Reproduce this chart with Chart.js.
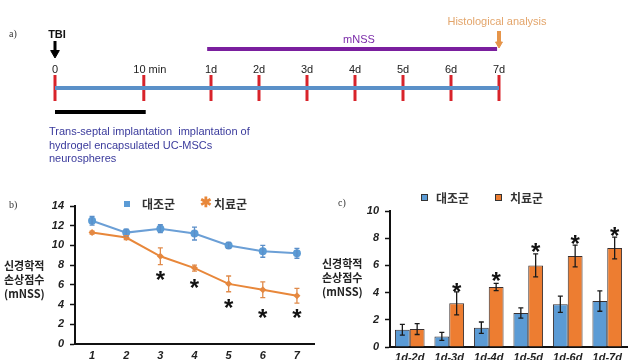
<!DOCTYPE html>
<html><head><meta charset="utf-8">
<script src="https://cdn.jsdelivr.net/npm/chart.js@4/dist/chart.umd.min.js"></script>
<style>
html,body{margin:0;padding:0;background:#fff;}
#wrap{position:relative;width:640px;height:360px;overflow:hidden;background:#fff;font-family:"Liberation Sans",Arial,sans-serif;}
canvas{position:absolute;}
.t{position:absolute;white-space:nowrap;}
.lab{font-family:"Liberation Serif",serif;font-size:10px;color:#333;}
.ytitle{font-family:"Noto Sans CJK KR","Liberation Sans",sans-serif;font-weight:bold;font-size:11px;line-height:14px;color:#222;}
.leg{font-family:"Noto Sans CJK KR",sans-serif;font-weight:bold;font-size:12px;color:#333;}
.mk{position:absolute;}
</style></head><body>
<div id="wrap">
  <canvas id="ca" width="640" height="175" style="left:0;top:0;width:640px;height:175px"></canvas>
  <canvas id="cb" width="330" height="180" style="left:0;top:180px;width:330px;height:180px"></canvas>
  <canvas id="cc" width="320" height="180" style="left:320px;top:180px;width:320px;height:180px"></canvas>

  <div class="t lab" style="left:9px;top:28px">a)</div>
  <div class="t" style="left:49px;top:125px;font-size:11px;line-height:13.5px;color:#3a3a9c">Trans-septal implantation&nbsp; implantation of<br>hydrogel encapsulated UC-MSCs<br>neurospheres</div>

  <div class="t lab" style="left:9px;top:199px">b)</div>
  <div class="t ytitle" style="left:4px;top:258px">신경학적<br>손상점수<br>(mNSS)</div>
  <div class="mk" style="left:124px;top:201px;width:6px;height:6px;background:#5b9bd5"></div>
  <div class="t leg" style="left:142px;top:195px">대조군</div>
  <div class="t" style="left:200px;top:194px;font-size:14px;font-weight:bold;color:#e8873a">✱</div>
  <div class="t leg" style="left:214px;top:195px">치료군</div>

  <div class="t lab" style="left:338px;top:197px">c)</div>
  <div class="t ytitle" style="left:322px;top:256px">신경학적<br>손상점수<br>(mNSS)</div>
  <div class="mk" style="left:421px;top:194px;width:5px;height:5px;background:#5b9bd5;border:1px solid #333"></div>
  <div class="t leg" style="left:436px;top:189px">대조군</div>
  <div class="mk" style="left:495px;top:194px;width:5px;height:5px;background:#ed7d31;border:1px solid #333"></div>
  <div class="t leg" style="left:510px;top:189px">치료군</div>
</div>
<script>
// ---------- DATA ----------
// a) timeline
const tlLabels = ['0','10 min','1d','2d','3d','4d','5d','6d','7d'];
const tlPos    = [0, 1.85, 3.25, 4.25, 5.25, 6.25, 7.25, 8.25, 9.25];

// b) mNSS per day
const daysB      = ['1','2','3','4','5','6','7'];
const ctrlB      = [12.5, 11.3, 11.7, 11.2, 10.0, 9.4, 9.2];
const ctrlErrB   = [0.45, 0.35, 0.4, 0.65, 0.3, 0.6, 0.5];
const treatB     = [11.3, 10.8, 8.9, 7.7, 6.1, 5.5, 4.9];
const treatErrB  = [0.15, 0.2, 0.85, 0.3, 0.8, 0.8, 0.75];
const starsB     = [null, null, 6.9, 6.1, 4.1, 3.1, 3.1];

// c) mNSS improvement
const rangesC    = ['1d-2d','1d-3d','1d-4d','1d-5d','1d-6d','1d-7d'];
const ctrlC      = [1.27, 0.78, 1.42, 2.5, 3.14, 3.38];
const ctrlErrC   = [0.4, 0.3, 0.42, 0.37, 0.6, 0.75];
const treatC     = [1.32, 3.21, 4.41, 6.0, 6.69, 7.28];
const treatErrC  = [0.4, 0.85, 0.27, 0.85, 0.8, 0.8];
const starsC     = [null, 4.4, 5.2, 7.3, 7.9, 8.5];

const seriesNames = ['대조군','치료군'];

// ---------- helpers ----------
const FONT = '"Liberation Sans", Arial, sans-serif';

const errPlugin = {
  id: 'errbars',
  afterDatasetsDraw(chart) {
    const ctx = chart.ctx, ys = chart.scales.y;
    chart.data.datasets.forEach((ds, i) => {
      if (!ds.errors) return;
      const meta = chart.getDatasetMeta(i);
      meta.data.forEach((el, j) => {
        const v = ds.data[j], e = ds.errors[j];
        if (v == null || e == null) return;
        const x = el.x, y1 = ys.getPixelForValue(v + e), y2 = ys.getPixelForValue(v - e);
        ctx.save();
        ctx.strokeStyle = ds.errColor; ctx.lineWidth = 1.3;
        ctx.beginPath();
        ctx.moveTo(x, y1); ctx.lineTo(x, y2);
        ctx.moveTo(x - 2.5, y1); ctx.lineTo(x + 2.5, y1);
        ctx.moveTo(x - 2.5, y2); ctx.lineTo(x + 2.5, y2);
        ctx.stroke(); ctx.restore();
      });
    });
  }
};

const starPlugin = {
  id: 'stars',
  afterDatasetsDraw(chart, args, opts) {
    const ctx = chart.ctx, ys = chart.scales.y;
    const meta = chart.getDatasetMeta(opts.dataset);
    ctx.save();
    ctx.fillStyle = '#111';
    ctx.font = 'bold ' + opts.size + 'px ' + FONT;
    ctx.textAlign = 'center';
    ctx.textBaseline = 'alphabetic';
    opts.values.forEach((v, j) => {
      if (v == null) return;
      const x = meta.data[j].x, y = ys.getPixelForValue(v);
      const m = ctx.measureText('*');
      const off = (m.actualBoundingBoxAscent - m.actualBoundingBoxDescent) / 2;
      ctx.fillText('*', x, y + off);
    });
    ctx.restore();
  }
};

// ---------- a) timeline ----------
const LINE_Y = 88, LABEL_Y = 70, BAR_Y = 112, MNSS_Y = 49;
const tlTextPlugin = {
  id: 'tltext',
  afterDatasetsDraw(chart) {
    const ctx = chart.ctx, xs = chart.scales.x, ys = chart.scales.y;
    ctx.save();
    ctx.textAlign = 'center'; ctx.textBaseline = 'middle';
    ctx.font = '11px ' + FONT; ctx.fillStyle = '#222';
    tlLabels.forEach((l, i) => {
      const x = xs.getPixelForValue(tlPos[i]) + (i === 1 ? 6 : 0);
      ctx.fillText(l, x, ys.getPixelForValue(LABEL_Y));
    });
    ctx.font = 'bold 11px ' + FONT; ctx.fillStyle = '#111';
    ctx.fillText('TBI', xs.getPixelForValue(tlPos[0]) + 2, ys.getPixelForValue(35));
    ctx.font = '11px ' + FONT; ctx.fillStyle = '#7a2aa8';
    ctx.fillText('mNSS', (xs.getPixelForValue(tlPos[2]) + xs.getPixelForValue(tlPos[8])) / 2 + 4, ys.getPixelForValue(40));
    ctx.fillStyle = '#e3a56b';
    ctx.fillText('Histological analysis', xs.getPixelForValue(tlPos[8]) - 2, ys.getPixelForValue(22));
    ctx.restore();
  }
};

const seg = (x1, x2, y) => [{x: x1, y}, {x: x2, y}];
new Chart(document.getElementById('ca'), {
  type: 'scatter',
  data: {
    datasets: [
      {data: seg(tlPos[0], tlPos[8], LINE_Y), showLine: true, borderColor: '#5a90c8', borderWidth: 4, pointRadius: 0},
      {data: tlPos.map(x => ({x, y: LINE_Y})), showLine: false, pointStyle: 'line', rotation: 90, pointRadius: 13, borderColor: '#d8232a', borderWidth: 3},
      {data: seg(tlPos[0], tlPos[1] + 0.04, BAR_Y), showLine: true, borderColor: '#000', borderWidth: 4, pointRadius: 0},
      {data: seg(tlPos[2] - 0.08, tlPos[8] - 0.04, MNSS_Y), showLine: true, borderColor: '#7a1f9e', borderWidth: 4, pointRadius: 0},
      {data: [{x: tlPos[0], y: 41}, {x: tlPos[0], y: 51}], showLine: true, borderColor: '#000', borderWidth: 3, pointRadius: 0},
      {data: [{x: tlPos[0], y: 53}], pointStyle: 'triangle', rotation: 180, pointRadius: 5, backgroundColor: '#000', borderColor: '#000'},
      {data: [{x: tlPos[8], y: 31}, {x: tlPos[8], y: 42}], showLine: true, borderColor: '#e6954a', borderWidth: 4, pointRadius: 0},
      {data: [{x: tlPos[8], y: 44}], pointStyle: 'triangle', rotation: 180, pointRadius: 4, backgroundColor: '#e6954a', borderColor: '#e6954a'}
    ]
  },
  options: {
    responsive: false, devicePixelRatio: 1, animation: false,
    layout: {padding: 0, autoPadding: false},
    plugins: {legend: {display: false}, tooltip: {enabled: false}},
    scales: {
      x: {type: 'linear', display: false, min: -55 / 48, max: -55 / 48 + 640 / 48},
      y: {type: 'linear', display: false, min: 0, max: 175, reverse: true}
    }
  },
  plugins: [tlTextPlugin]
});

// ---------- b) line chart ----------
const tickFont = {family: FONT, size: 11, weight: 'bold', style: 'italic'};
new Chart(document.getElementById('cb'), {
  type: 'line',
  data: {
    labels: daysB,
    datasets: [
      {label: seriesNames[0], data: ctrlB, errors: ctrlErrB, errColor: '#5b8fc9', borderColor: '#6b9fd6', backgroundColor: '#5b9bd5', borderWidth: 2, pointStyle: 'circle', pointRadius: 4, pointBorderWidth: 0, tension: 0},
      {label: seriesNames[1], data: treatB, errors: treatErrB, errColor: '#e08a4a', borderColor: '#e8873a', backgroundColor: '#e8873a', borderWidth: 2, pointStyle: 'rectRot', pointRadius: 3.5, pointBorderWidth: 0, tension: 0}
    ]
  },
  options: {
    responsive: false, devicePixelRatio: 1, animation: false,
    layout: {padding: {left: 0, right: 16, top: 26, bottom: 0}, autoPadding: false},
    plugins: {legend: {display: false}, tooltip: {enabled: false}, stars: {values: starsB, dataset: 1, size: 24}},
    scales: {
      x: {
        offset: true,
        grid: {display: false, drawTicks: false},
        border: {color: '#111', width: 2},
        ticks: {font: tickFont, color: '#222', padding: 5},
        afterFit: s => { s.height = 16; }
      },
      y: {
        min: 0, max: 14,
        grid: {drawOnChartArea: false, drawTicks: true, tickLength: 5, color: '#111', tickWidth: 1.5},
        border: {color: '#111', width: 2},
        ticks: {stepSize: 2, font: tickFont, color: '#222', padding: 6},
        afterFit: s => { s.width = 75; }
      }
    }
  },
  plugins: [errPlugin, starPlugin]
});

// ---------- c) bar chart ----------
new Chart(document.getElementById('cc'), {
  type: 'bar',
  data: {
    labels: rangesC,
    datasets: [
      {label: seriesNames[0], data: ctrlC, errors: ctrlErrC, errColor: '#1a1a1a', backgroundColor: '#5b9bd5', borderColor: '#3a3030', borderWidth: 1, categoryPercentage: 0.75, barPercentage: 1.0},
      {label: seriesNames[1], data: treatC, errors: treatErrC, errColor: '#1a1a1a', backgroundColor: '#ed7d31', borderColor: '#3a3030', borderWidth: 1, categoryPercentage: 0.75, barPercentage: 1.0}
    ]
  },
  options: {
    responsive: false, devicePixelRatio: 1, animation: false,
    layout: {padding: {left: 0, right: 13, top: 31, bottom: 0}},
    plugins: {legend: {display: false}, tooltip: {enabled: false}, stars: {values: starsC, dataset: 1, size: 24}},
    scales: {
      x: {
        grid: {display: false, drawTicks: false},
        border: {color: '#111', width: 2},
        ticks: {font: tickFont, color: '#222', padding: 4},
        afterFit: s => { s.height = 13; }
      },
      y: {
        min: 0, max: 10,
        grid: {drawOnChartArea: false, drawTicks: true, tickLength: 5, color: '#111', tickWidth: 1.5},
        border: {color: '#111', width: 2},
        ticks: {stepSize: 2, font: tickFont, color: '#222', padding: 6},
        afterFit: s => { s.width = 70; }
      }
    }
  },
  plugins: [errPlugin, starPlugin]
});
</script>
</body></html>
